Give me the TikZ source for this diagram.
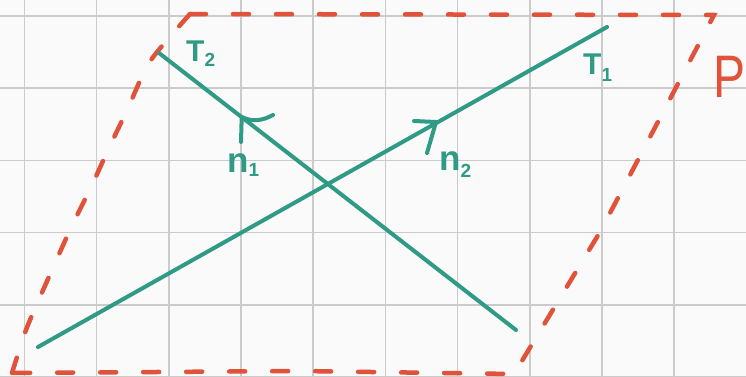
\documentclass[tikz,border=0pt]{standalone}
\usepackage{fontspec}
\setmainfont{Liberation Sans}
\definecolor{bgc}{HTML}{FAFAFA}
\definecolor{gridc}{HTML}{CBCBCB}
\definecolor{tealc}{HTML}{2F9A86}
\definecolor{redc}{HTML}{E0523A}
\begin{document}
\begin{tikzpicture}[x=1pt,y=-1pt,
  gridline/.style={draw=gridc,line width=1.6pt},
  tealline/.style={draw=tealc,line width=4pt,line cap=round,line join=round},
  redline/.style={draw=redc,line width=4.5pt,line cap=round,dash pattern=on 16pt off 27pt},
  tlabel/.style={text=tealc,inner sep=0pt,anchor=base west,font=\bfseries\fontsize{30}{30}\selectfont},
  nlabel/.style={text=tealc,inner sep=0pt,anchor=base west,font=\bfseries\fontsize{35}{35}\selectfont},
  plabel/.style={text=redc,inner sep=0pt,anchor=base west,xscale=0.8,font=\fontsize{60}{60}\selectfont}]
\useasboundingbox (0,0) rectangle (746,377);
\fill[bgc] (0,0) rectangle (746,377);
% grid
\foreach \i in {0,...,9} \draw[gridline] ({24.3+72.2*\i},0) -- ({24.3+72.2*\i},377);
\foreach \j in {0,...,5} \draw[gridline] (0,{16+72.2*\j}) -- (746,{16+72.2*\j});
% plane P (dashed parallelogram)
\draw[redline] (190,14) -- (714,15) -- (660,118) -- (600,232) -- (514,374) -- (300,371) -- (12,373);
\draw[redline] plot[smooth] coordinates {(12,373) (26,330) (44,288) (70,230) (92,185) (108,150) (128,108) (146,68) (162,46) (190,14)};
% lines T1 and T2
\coordinate (A1) at (38,347);
\coordinate (B1) at (607,27);
\coordinate (A2) at (159,53);
\coordinate (B2) at (516,330);
\draw[tealline] (A1) -- (B1);
\draw[tealline] (A2) -- (B2);
% arrow tips
\coordinate (t1) at (436,122);
\coordinate (t1a) at (414,121);
\coordinate (t1b) at (427,153);
\draw[tealline] (t1a) -- (t1) -- (t1b);
\coordinate (t2) at (241.7,117);
\coordinate (t2a) at (241,142);
\coordinate (t2b) at (273,115);
\draw[tealline] (t2a) -- (t2) .. controls (252,122) and (262,121) .. (t2b);
% labels
\node[tlabel] (lT2) at (186,62) {T\raisebox{-5pt}{\fontsize{19}{19}\selectfont 2}};
\node[tlabel] (lT1) at (583,75) {T\raisebox{-7pt}{\fontsize{19}{19}\selectfont 1}};
\node[nlabel] (ln1) at (227,172) {n\raisebox{-4pt}{\fontsize{19}{19}\selectfont 1}};
\node[nlabel] (ln2) at (439,170) {n\raisebox{-7pt}{\fontsize{19}{19}\selectfont 2}};
\node[plabel] (lP) at (713,98) {P};
\end{tikzpicture}
\end{document}
